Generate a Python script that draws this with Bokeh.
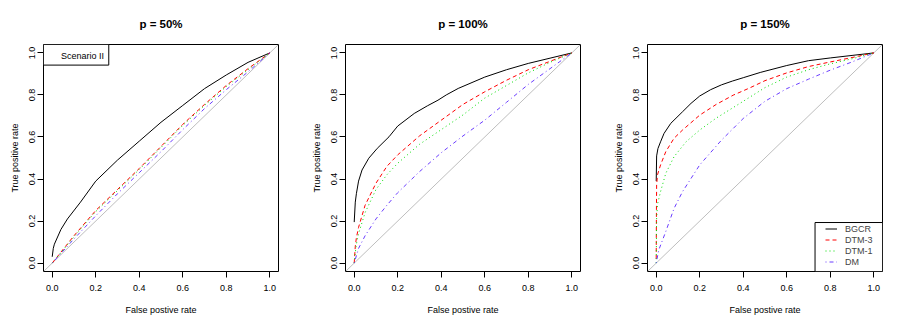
from bokeh.plotting import figure
from bokeh.layouts import row
from bokeh.models import (FixedTicker, PrintfTickFormatter, Slope, Legend, LegendItem,
                          BoxAnnotation, Range1d, Label)
from bokeh.embed import file_html
from bokeh.resources import INLINE

titles = ["p = 50%", "p = 100%", "p = 150%"]
methods = ["BGCR", "DTM-3", "DTM-1", "DM"]
colors = ["black", "#FF0000", "#00DD00", "#6A3DFF"]
dashes = ["solid", "4 3", "1 3", "1 3 4 3"]
ticks = [0.0, 0.2, 0.4, 0.6, 0.8, 1.0]
x_label = "False postive rate"
y_label = "True positive rate"
scenario = "Scenario II"

# ---- p = 50% ----
p50_bgcr_x = [0, 0.005, 0.01, 0.04, 0.07, 0.13, 0.2, 0.3, 0.4, 0.5, 0.6, 0.7, 0.8, 0.9, 1.0]
p50_bgcr_y = [0.03, 0.07, 0.09, 0.16, 0.21, 0.29, 0.39, 0.49, 0.58, 0.67, 0.75, 0.83, 0.895, 0.955, 1.0]
p50_dtm3_x = [0, 0.1, 0.2, 0.3, 0.4, 0.5, 0.6, 0.7, 0.8, 0.9, 1.0]
p50_dtm3_y = [0.0, 0.13, 0.25, 0.35, 0.45, 0.555, 0.66, 0.755, 0.845, 0.925, 1.0]
p50_dtm1_x = [0, 0.1, 0.2, 0.3, 0.4, 0.5, 0.6, 0.7, 0.8, 0.9, 1.0]
p50_dtm1_y = [0.0, 0.125, 0.245, 0.345, 0.445, 0.55, 0.655, 0.75, 0.84, 0.92, 1.0]
p50_dm_x = [0, 0.1, 0.2, 0.3, 0.4, 0.5, 0.6, 0.7, 0.8, 0.9, 1.0]
p50_dm_y = [0.0, 0.115, 0.225, 0.33, 0.43, 0.53, 0.635, 0.735, 0.825, 0.91, 1.0]

# ---- p = 100% ----
p100_bgcr_x = [0, 0.005, 0.01, 0.02, 0.036, 0.067, 0.106, 0.16, 0.2, 0.276, 0.336, 0.385, 0.423, 0.478, 0.6, 0.7, 0.8, 0.9, 1.0]
p100_bgcr_y = [0.195, 0.29, 0.33, 0.39, 0.443, 0.499, 0.546, 0.601, 0.652, 0.712, 0.748, 0.775, 0.80, 0.831, 0.885, 0.92, 0.95, 0.975, 1.0]
p100_dtm3_x = [0, 0.005, 0.01, 0.02, 0.05, 0.1, 0.15, 0.2, 0.3, 0.4, 0.5, 0.6, 0.7, 0.8, 0.9, 1.0]
p100_dtm3_y = [0.0, 0.08, 0.12, 0.17, 0.275, 0.38, 0.46, 0.515, 0.605, 0.68, 0.755, 0.815, 0.87, 0.92, 0.96, 1.0]
p100_dtm1_x = [0, 0.005, 0.01, 0.02, 0.05, 0.1, 0.15, 0.2, 0.3, 0.4, 0.5, 0.6, 0.7, 0.8, 0.9, 1.0]
p100_dtm1_y = [0.0, 0.05, 0.09, 0.14, 0.24, 0.35, 0.42, 0.475, 0.565, 0.635, 0.705, 0.785, 0.845, 0.905, 0.955, 1.0]
p100_dm_x = [0, 0.02, 0.05, 0.1, 0.15, 0.2, 0.3, 0.4, 0.5, 0.6, 0.7, 0.8, 0.9, 1.0]
p100_dm_y = [0.0, 0.07, 0.13, 0.21, 0.275, 0.335, 0.435, 0.525, 0.605, 0.68, 0.765, 0.85, 0.925, 1.0]

# ---- p = 150% ----
p150_bgcr_x = [0, 0.002, 0.008, 0.02, 0.036, 0.067, 0.121, 0.16, 0.2, 0.25, 0.3, 0.35, 0.4, 0.478, 0.6, 0.7, 0.8, 0.9, 1.0]
p150_bgcr_y = [0.39, 0.51, 0.545, 0.577, 0.617, 0.665, 0.72, 0.76, 0.795, 0.825, 0.848, 0.866, 0.882, 0.907, 0.94, 0.963, 0.976, 0.988, 1.0]
p150_dtm3_x = [0, 0.001, 0.002, 0.006, 0.02, 0.044, 0.082, 0.121, 0.2, 0.276, 0.354, 0.431, 0.5, 0.6, 0.7, 0.8, 0.9, 1.0]
p150_dtm3_y = [0.02, 0.245, 0.372, 0.42, 0.467, 0.53, 0.594, 0.633, 0.704, 0.755, 0.799, 0.834, 0.868, 0.905, 0.935, 0.957, 0.978, 1.0]
p150_dtm1_x = [0, 0.002, 0.006, 0.02, 0.044, 0.082, 0.137, 0.2, 0.276, 0.354, 0.431, 0.5, 0.6, 0.7, 0.8, 0.9, 1.0]
p150_dtm1_y = [0.0, 0.214, 0.28, 0.34, 0.427, 0.506, 0.577, 0.633, 0.69, 0.74, 0.79, 0.835, 0.885, 0.92, 0.948, 0.972, 1.0]
p150_dm_x = [0, 0.012, 0.044, 0.082, 0.121, 0.2, 0.3, 0.4, 0.5, 0.6, 0.7, 0.8, 0.9, 1.0]
p150_dm_y = [0.0, 0.063, 0.15, 0.26, 0.34, 0.467, 0.585, 0.688, 0.77, 0.83, 0.875, 0.918, 0.957, 1.0]

panels = [
    [(p50_bgcr_x, p50_bgcr_y), (p50_dtm3_x, p50_dtm3_y), (p50_dtm1_x, p50_dtm1_y), (p50_dm_x, p50_dm_y)],
    [(p100_bgcr_x, p100_bgcr_y), (p100_dtm3_x, p100_dtm3_y), (p100_dtm1_x, p100_dtm1_y), (p100_dm_x, p100_dm_y)],
    [(p150_bgcr_x, p150_bgcr_y), (p150_dtm3_x, p150_dtm3_y), (p150_dtm1_x, p150_dtm1_y), (p150_dm_x, p150_dm_y)],
]

FONT = "Liberation Sans"


def make_fig(i, left_border, right_border):
    p = figure(frame_width=235, frame_height=227,
               x_range=Range1d(-0.04, 1.04), y_range=Range1d(-0.04, 1.04),
               toolbar_location=None, output_backend="svg",
               min_border_left=left_border, min_border_right=right_border,
               min_border_top=44, min_border_bottom=54)
    p.title.text = titles[i]
    p.title.align = "center"
    p.title.text_font = FONT
    p.title.text_font_size = "11.5px"
    p.title.text_font_style = "bold"
    p.title.text_color = "black"
    p.title.standoff = 29
    p.xgrid.visible = False
    p.ygrid.visible = False
    p.outline_line_color = "black"
    p.outline_line_alpha = 1
    p.outline_line_width = 1
    p.background_fill_color = "white"
    p.border_fill_color = "white"
    for ax in (p.xaxis[0], p.yaxis[0]):
        ax.ticker = FixedTicker(ticks=ticks, minor_ticks=[])
        ax.formatter = PrintfTickFormatter(format="%.1f")
        ax.bounds = (0, 1)
        ax.major_tick_out = 6
        ax.major_tick_in = 0
        ax.minor_tick_out = 0
        ax.minor_tick_in = 0
        ax.axis_line_color = "black"
        ax.major_tick_line_color = "black"
        ax.major_label_text_font = FONT
        ax.major_label_text_font_size = "9px"
        ax.major_label_text_color = "black"
        ax.axis_label_text_font = FONT
        ax.axis_label_text_font_size = "9px"
        ax.axis_label_text_font_style = "normal"
        ax.axis_label_text_color = "black"
    p.xaxis.axis_label = x_label
    p.yaxis.axis_label = y_label
    p.xaxis.major_label_standoff = 7
    p.xaxis.axis_label_standoff = 11
    p.yaxis.major_label_standoff = 2
    p.yaxis.major_label_orientation = "vertical"
    p.yaxis.axis_label_standoff = 7

    diag = Slope(gradient=1, y_intercept=0, line_color="#BEBEBE", line_width=1, level="underlay")
    p.add_layout(diag)

    renderers = []
    for (xs, ys), c, d in zip(panels[i], colors, dashes):
        r = p.line(xs, ys, line_color=c, line_dash=d, line_width=1)
        renderers.append(r)
    return p, renderers


p1, _ = make_fig(0, 43, 30)
p2, _ = make_fig(1, 35, 30)
p3, rs3 = make_fig(2, 35, 5)

# Scenario label box (panel 1)
box1 = BoxAnnotation(right=0.26, bottom=0.942, fill_color="white", fill_alpha=1,
                     line_color="black", line_width=1, line_alpha=1)
p1.add_layout(box1)
p1.add_layout(Label(x=0.04, y=0.986, text=scenario, text_baseline="middle",
                    text_font=FONT, text_font_size="9px", text_color="black"))

# Legend (panel 3)
box3 = BoxAnnotation(left=0.73, top=0.193, fill_color="white", fill_alpha=1,
                     line_color="black", line_width=1, line_alpha=1)
p3.add_layout(box3)
legend = Legend(items=[LegendItem(label=m, renderers=[r]) for m, r in zip(methods, rs3)],
                location=(178, 4), padding=0, margin=0, spacing=0,
                glyph_width=12, glyph_height=11, label_height=11, label_standoff=8,
                label_text_font=FONT, label_text_font_size="9px",
                border_line_alpha=0, background_fill_alpha=0)
p3.add_layout(legend)

layout = row(p1, p2, p3)
open("out.html", "w").write(file_html(layout, INLINE))
